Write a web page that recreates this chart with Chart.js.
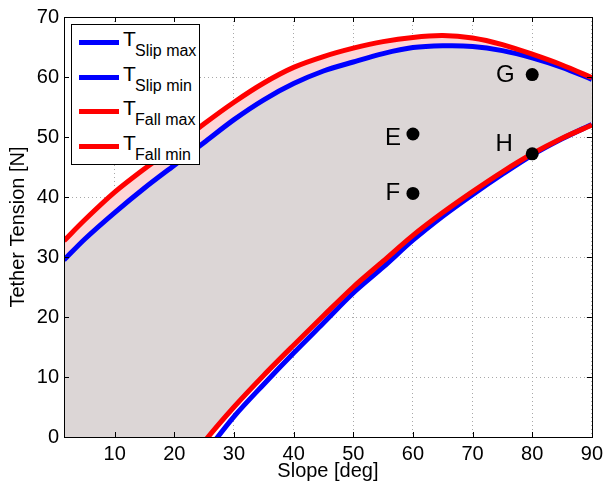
<!DOCTYPE html>
<html>
<head>
<meta charset="utf-8">
<script src="https://cdn.jsdelivr.net/npm/chart.js@4/dist/chart.umd.min.js"></script>
<style>
  body { margin: 0; background: #fff; }
  #wrap { position: relative; width: 608px; height: 486px; font-family: "Liberation Sans", Arial, sans-serif; }
  #legend { position: absolute; left: 71px; top: 24px; width: 127px; height: 139px; border: 1px solid #000; background: #fff; }
  .row { position: absolute; left: 0; width: 127px; height: 34px; }
  .row .ln { position: absolute; left: 7px; top: 15px; width: 40px; height: 5px; }
  .row .t { position: absolute; left: 51px; top: 3px; font-size: 21px; line-height: 21px; color: #000; }
  .row .s { position: absolute; left: 63px; top: 18px; font-size: 16px; line-height: 16px; color: #000; white-space: nowrap; }
</style>
</head>
<body>
<div id="wrap">
  <canvas id="c" width="608" height="486"></canvas>
  <div id="legend"></div>
</div>
<script>
// slope angle [deg]
const slope = [1.5, 5, 10, 15, 20, 25, 30, 35, 40, 45, 50, 55, 60, 65, 70, 75, 80, 85, 90];

// tether tension [N]
const slipMax = [29.5, 33.0, 37.4, 41.5, 45.3, 49.1, 52.9, 56.2, 58.9, 61.0, 62.5, 63.9, 64.9, 65.2, 65.1, 64.4, 63.2, 61.6, 59.6];
const slipMin = [-34, -29, -22, -15.5, -9.2, -2.9, 3.4, 8.8, 14.0, 19.0, 24.0, 28.3, 32.8, 36.8, 40.4, 43.8, 47.0, 49.7, 52.1];
const fallMax = [32.7, 36.2, 40.8, 44.7, 48.3, 52.2, 55.8, 59.0, 61.6, 63.4, 64.8, 65.9, 66.6, 66.9, 66.5, 65.4, 63.8, 62.0, 59.9];
const fallMin = [-32, -27, -20, -13.5, -7.3, -0.8, 5.0, 10.3, 15.3, 20.2, 25.0, 29.3, 33.6, 37.4, 40.9, 44.2, 47.2, 49.8, 52.0];

// marked cases
const caseNames = ['E', 'F', 'G', 'H'];
const caseSlope = [60, 60, 80, 80];
const caseTension = [50.5, 40.6, 60.4, 47.2];

const xTicks = [10, 20, 30, 40, 50, 60, 70, 80, 90];
const yTicks = [0, 10, 20, 30, 40, 50, 60, 70];

const seriesNames = ['Slip max', 'Slip min', 'Fall max', 'Fall min'];
const seriesColors = ['#0000ff', '#0000ff', '#ff0000', '#ff0000'];

const FONT = '"Liberation Sans", Arial, sans-serif';
const pts = arr => arr.map((y, i) => ({ x: slope[i], y }));

// label offsets from each marker (px)
const labelShift = { E: [-20, 4], F: [-20, 0], G: [-27, 1], H: [-28, -9] };

const framePlugin = {
  id: 'frame',
  afterDatasetsDraw(chart) {
    const { ctx, chartArea: a, scales: { x, y } } = chart;
    ctx.save();
    ctx.strokeStyle = '#000';
    ctx.lineWidth = 1;
    ctx.beginPath();
    xTicks.forEach(v => {
      const px = Math.round(x.getPixelForValue(v)) + 0.5;
      ctx.moveTo(px, a.bottom); ctx.lineTo(px, a.bottom - 5);
      ctx.moveTo(px, a.top); ctx.lineTo(px, a.top + 5);
    });
    yTicks.forEach(v => {
      const py = Math.round(y.getPixelForValue(v)) + 0.5;
      ctx.moveTo(a.left, py); ctx.lineTo(a.left + 5, py);
      ctx.moveTo(a.right, py); ctx.lineTo(a.right - 5, py);
    });
    ctx.stroke();
    ctx.strokeRect(Math.round(a.left) + 0.5, Math.round(a.top) + 0.5,
      Math.round(a.right - a.left), Math.round(a.bottom - a.top));

    ctx.fillStyle = '#000';
    ctx.font = '24px ' + FONT;
    ctx.textAlign = 'center';
    ctx.textBaseline = 'middle';
    caseNames.forEach((n, i) => {
      const s = labelShift[n];
      ctx.fillText(n, x.getPixelForValue(caseSlope[i]) + s[0], y.getPixelForValue(caseTension[i]) + s[1]);
    });
    ctx.restore();
  }
};

const line = (label, data, color, extra) => Object.assign({
  label, data, borderColor: color, borderWidth: 5, pointRadius: 0,
  tension: 0.3, fill: false, clip: 0, order: 2
}, extra || {});

new Chart(document.getElementById('c'), {
  type: 'line',
  data: {
    datasets: [
      { label: 'cases', type: 'scatter',
        data: caseSlope.map((x, i) => ({ x, y: caseTension[i] })),
        pointRadius: 6.5, pointBackgroundColor: '#000', pointBorderWidth: 0, showLine: false, order: 0 },
      line(seriesNames[2], pts(fallMax), seriesColors[2], { fill: { target: 3 }, backgroundColor: '#fdd6d6', order: 1 }),
      line(seriesNames[3], pts(fallMin), seriesColors[3], { order: 1 }),
      line(seriesNames[0], pts(slipMax), seriesColors[0], { fill: { target: 2 }, backgroundColor: '#dcd6d6' }),
      line(seriesNames[1], pts(slipMin), seriesColors[1])
    ]
  },
  options: {
    responsive: false,
    animation: false,
    layout: { padding: { top: 16, right: 12, left: 0, bottom: 0 } },
    plugins: {
      legend: { display: false },
      tooltip: { enabled: false },
      filler: { drawTime: 'beforeDatasetsDraw' }
    },
    scales: {
      x: {
        type: 'linear', min: 1.5, max: 90,
        afterBuildTicks: s => { s.ticks = xTicks.map(value => ({ value })); },
        afterFit: s => { s.height = 49; },
        ticks: { font: { size: 20, family: FONT }, color: '#000', padding: 5, maxRotation: 0 },
        grid: { color: '#a8a8a8', lineWidth: 1, drawTicks: false },
        border: { display: false, dash: [1, 3] },
        title: { display: true, text: 'Slope [deg]', font: { size: 20, family: FONT }, color: '#000', padding: { top: 0, bottom: 3 } }
      },
      y: {
        min: 0, max: 70,
        afterBuildTicks: s => { s.ticks = yTicks.map(value => ({ value })); },
        afterFit: s => { s.width = 64; },
        ticks: { font: { size: 20, family: FONT }, color: '#000', padding: 5 },
        grid: { color: '#a8a8a8', lineWidth: 1, drawTicks: false },
        border: { display: false, dash: [1, 3] },
        title: { display: true, text: 'Tether Tension [N]', font: { size: 20, family: FONT }, color: '#000', padding: { top: 6, bottom: 0 } }
      }
    }
  },
  plugins: [framePlugin]
});

// legend with subscripts
const lg = document.getElementById('legend');
seriesNames.forEach((n, i) => {
  const r = document.createElement('div');
  r.className = 'row';
  r.style.top = (i * 34.5) + 'px';
  r.innerHTML = '<div class="ln" style="background:' + seriesColors[i] + '"></div>' +
    '<span class="t">T</span><span class="s">' + n + '</span>';
  lg.appendChild(r);
});
</script>
</body>
</html>
